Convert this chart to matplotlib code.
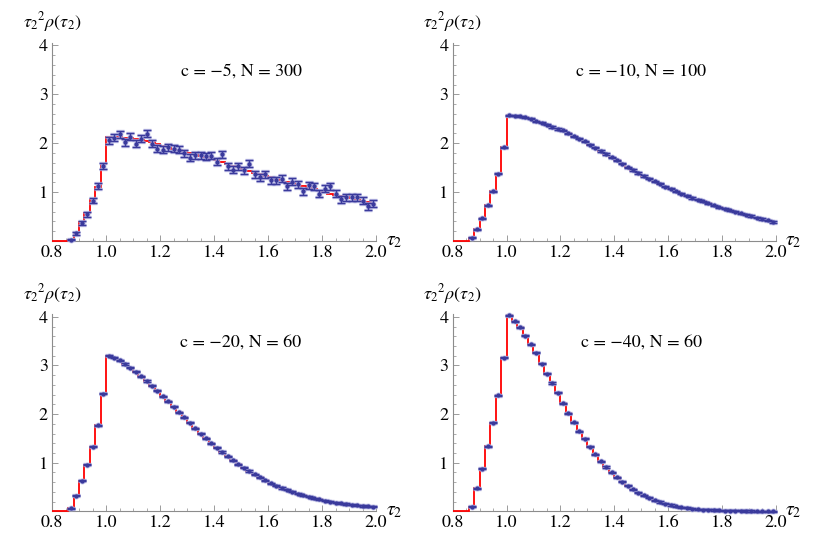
import numpy as np
import matplotlib
matplotlib.use('Agg')
import matplotlib.pyplot as plt
from matplotlib.ticker import MultipleLocator, FormatStrFormatter

plt.rcParams['font.family'] = ['STIXGeneral', 'DejaVu Serif']
plt.rcParams['mathtext.fontset'] = 'stix'

# bins of tau_2, width 0.02 from 0.8 to 2.0
tau_edges = np.round(np.arange(0.80, 2.0001, 0.02), 2)
tau_mid = (tau_edges[:-1] + tau_edges[1:]) / 2
first_pt = 3  # simulated points start in the 0.86-0.88 bin

labels = ['c = \u22125, N = 300', 'c = \u221210, N = 100',
          'c = \u221220, N = 60', 'c = \u221240, N = 60']

# analytic histogram (red)
fit_c5 = [0, 0, 0, 0.03, 0.17, 0.39, 0.57, 0.83, 1.10, 1.57,
          2.13, 2.13, 2.12, 2.11, 2.10, 2.09, 2.07, 2.05, 2.02, 1.99,
          1.95, 1.92, 1.89, 1.86, 1.83, 1.80, 1.77, 1.74, 1.71, 1.68,
          1.65, 1.61, 1.58, 1.54, 1.51, 1.47, 1.44, 1.40, 1.37, 1.33,
          1.30, 1.27, 1.24, 1.21, 1.18, 1.15, 1.12, 1.09, 1.06, 1.03,
          1.00, 0.97, 0.95, 0.92, 0.89, 0.87, 0.84, 0.81, 0.79, 0.76]
fit_c10 = [0, 0, 0, 0.07, 0.24, 0.46, 0.73, 1.02, 1.38, 1.92,
           2.57, 2.56, 2.55, 2.53, 2.50, 2.45, 2.42, 2.38, 2.33, 2.29,
           2.26, 2.20, 2.14, 2.09, 2.04, 1.97, 1.91, 1.84, 1.78, 1.71,
           1.65, 1.58, 1.51, 1.45, 1.39, 1.33, 1.27, 1.22, 1.17, 1.11,
           1.07, 1.02, 0.97, 0.93, 0.88, 0.84, 0.81, 0.77, 0.73, 0.69,
           0.66, 0.63, 0.60, 0.57, 0.54, 0.51, 0.48, 0.45, 0.42, 0.39]
fit_c20 = [0, 0, 0, 0.06, 0.32, 0.63, 0.96, 1.33, 1.77, 2.42,
           3.20, 3.16, 3.11, 3.03, 2.95, 2.87, 2.78, 2.68, 2.58, 2.48,
           2.37, 2.26, 2.15, 2.04, 1.93, 1.82, 1.71, 1.60, 1.50, 1.40,
           1.31, 1.22, 1.13, 1.05, 0.97, 0.90, 0.83, 0.76, 0.70, 0.64,
           0.58, 0.53, 0.48, 0.44, 0.40, 0.36, 0.33, 0.30, 0.27, 0.245,
           0.22, 0.20, 0.18, 0.165, 0.15, 0.135, 0.12, 0.11, 0.10, 0.09]
fit_c40 = [0, 0, 0, 0.09, 0.47, 0.88, 1.34, 1.82, 2.39, 3.16,
           4.03, 3.91, 3.79, 3.61, 3.44, 3.26, 3.04, 2.83, 2.64, 2.44,
           2.22, 2.02, 1.83, 1.65, 1.49, 1.33, 1.17, 1.03, 0.91, 0.80,
           0.70, 0.61, 0.53, 0.45, 0.38, 0.33, 0.28, 0.23, 0.19, 0.16,
           0.13, 0.10, 0.08, 0.07, 0.055, 0.045, 0.035, 0.03, 0.025, 0.02,
           0.015, 0.012, 0.01, 0.008, 0.006, 0.005, 0.004, 0.003, 0.003, 0.002]

# simulated points (blue), from the 0.86-0.88 bin on
sim_c5 = [0.03, 0.16, 0.37, 0.55, 0.82, 1.12, 1.53, 2.06, 2.11, 2.18,
          2.02, 2.13, 1.99, 2.09, 2.19, 1.99, 1.89, 1.87, 1.92, 1.89,
          1.87, 1.79, 1.70, 1.75, 1.75, 1.73, 1.74, 1.62, 1.77, 1.53,
          1.46, 1.53, 1.45, 1.58, 1.36, 1.30, 1.36, 1.24, 1.24, 1.27,
          1.12, 1.21, 1.16, 1.02, 1.14, 1.12, 0.97, 1.07, 1.12, 0.97,
          0.85, 0.89, 0.89, 0.89, 0.82, 0.71, 0.76]
err_c5 = [0.02, 0.03, 0.04, 0.05, 0.05, 0.06, 0.06] + [0.07] * 50
sim_c10 = fit_c10[first_pt:]
sim_c20 = fit_c20[first_pt:]
sim_c40 = fit_c40[first_pt:]
err_small = 0.012

fits = [fit_c5, fit_c10, fit_c20, fit_c40]
sims = [sim_c5, sim_c10, sim_c20, sim_c40]
errs = [err_c5, err_small, err_small, err_small]

positions = [[0.0627, 0.5562, 0.3904, 0.3647],
             [0.5454, 0.5562, 0.3892, 0.3647],
             [0.0627, 0.0584, 0.3904, 0.3625],
             [0.5454, 0.0584, 0.3892, 0.3625]]

axis_grey = '#8c8c8c'
blue = '#3a3a9c'
halo = '#aeaee0'

fig = plt.figure(figsize=(8.3, 5.43), dpi=100)

for pos, fit, sim, err, lab in zip(positions, fits, sims, errs, labels):
    ax = fig.add_axes(pos)
    ax.set_xlim(0.8, 2.0)
    ax.set_ylim(0, 4.05)
    for s in ['top', 'right']:
        ax.spines[s].set_visible(False)
    for s in ['left', 'bottom']:
        ax.spines[s].set_color(axis_grey)
        ax.spines[s].set_linewidth(0.8)

    ax.set_xticks([0.8, 1.0, 1.2, 1.4, 1.6, 1.8, 2.0])
    ax.xaxis.set_minor_locator(MultipleLocator(0.05))
    ax.xaxis.set_major_formatter(FormatStrFormatter('%.1f'))
    ax.set_yticks([1, 2, 3, 4])
    ax.yaxis.set_minor_locator(MultipleLocator(0.2))
    ax.tick_params(which='major', direction='in', length=4.5, width=0.6,
                   color=axis_grey, labelsize=13, pad=3)
    ax.tick_params(which='minor', direction='in', length=2.3, width=0.5,
                   color=axis_grey)

    ax.stairs(fit, tau_edges, baseline=None, color='red', lw=1.3,
              clip_on=False, zorder=3)
    x = tau_mid[first_pt:]
    ax.errorbar(x, sim, yerr=err, fmt='o', ms=3.2, color=halo, ecolor=halo,
                elinewidth=2.4, capsize=3.0, capthick=2.4, alpha=0.8,
                zorder=4, clip_on=False)
    ax.errorbar(x, sim, yerr=err, fmt='o', ms=2.0, color=blue, ecolor=blue,
                elinewidth=1.0, capsize=2.8, capthick=1.0,
                zorder=5, clip_on=False)

    ax.text(1.5, 3.47, lab, ha='center', va='center', fontsize=13)
    ax.text(0, 1.105, r'${\tau_2}^2\rho(\tau_2)$', transform=ax.transAxes,
            ha='center', va='center', fontsize=13)
    ax.text(1.03, 0, r'$\tau_2$', transform=ax.transAxes,
            ha='left', va='center', fontsize=14)

fig.savefig('out.png', dpi=100)
